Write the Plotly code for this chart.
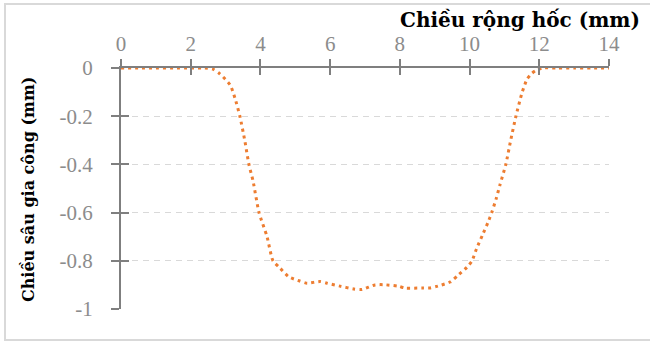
import plotly.graph_objects as go

# Data
width_mm = [0, 0.5, 1, 1.5, 2, 2.4, 2.64, 2.84, 3.13, 3.27, 3.41, 3.55, 3.67, 3.79,
            3.96, 4.19, 4.36, 4.56, 4.82, 5.13, 5.34, 5.71, 5.91, 6.28, 6.68, 6.91,
            7.29, 7.52, 7.95, 8.15, 8.63, 8.86, 9.09, 9.44, 9.67, 9.93, 10.07, 10.2,
            10.38, 10.53, 10.64, 10.76, 10.87, 11.04, 11.18, 11.33, 11.5, 11.65, 11.79,
            11.93, 12.1, 12.5, 13, 13.5, 14]
depth_mm = [0, 0, 0, 0, 0, 0, -0.005, -0.025, -0.07, -0.125, -0.2, -0.3, -0.4, -0.47,
            -0.6, -0.7, -0.8, -0.83, -0.867, -0.884, -0.893, -0.886, -0.893, -0.905, -0.917, -0.919,
            -0.9, -0.899, -0.905, -0.913, -0.913, -0.913, -0.905, -0.888, -0.86, -0.826, -0.8, -0.75,
            -0.69, -0.64, -0.598, -0.544, -0.486, -0.4, -0.3, -0.2, -0.105, -0.046, -0.022,
            -0.008, 0, 0, 0, 0, 0]

x_ticks = [0, 2, 4, 6, 8, 10, 12, 14]
y_ticks = [0, -0.2, -0.4, -0.6, -0.8, -1]
y_tick_text = ["0", "-0.2", "-0.4", "-0.6", "-0.8", "-1"]

x_title = "Chiều rộng hốc (mm)"
y_title = "Chiều sâu gia công (mm)"

W, H = 650, 343
ML, MR, MT, MB = 121, 41, 68, 34
PW, PH = W - ML - MR, H - MT - MB

tick_font = dict(family="Liberation Serif", size=21, color="#8c8c8c")
axis_col = "#7f7f7f"

fig = go.Figure()
fig.add_trace(go.Scatter(
    x=width_mm, y=depth_mm, mode="lines",
    line=dict(color="#ED7D31", width=3, dash="3px,4px", shape="spline", smoothing=0.6),
    hoverinfo="skip", showlegend=False,
))
# invisible trace to activate overlay axes (cross tick marks)
fig.add_trace(go.Scatter(x=[0, 14], y=[-1, 0], xaxis="x2", yaxis="y2",
                         mode="markers", marker=dict(opacity=0), showlegend=False,
                         hoverinfo="skip"))

fig.update_layout(
    width=W, height=H,
    margin=dict(l=ML, r=MR, t=MT, b=MB),
    paper_bgcolor="white", plot_bgcolor="white",
    xaxis=dict(range=[0, 14], side="top", tickvals=x_ticks, ticks="outside",
               ticklen=7, tickwidth=2, tickcolor=axis_col, showline=True,
               linecolor=axis_col, linewidth=2, showgrid=False, zeroline=False,
               tickfont=tick_font, ticklabelstandoff=0, fixedrange=True),
    yaxis=dict(range=[-1, 0], tickvals=y_ticks, ticktext=y_tick_text, ticks="outside",
               ticklen=8, tickwidth=2, tickcolor=axis_col, showline=True,
               linecolor=axis_col, linewidth=2, showgrid=True, gridcolor="#d9d9d9",
               griddash="6px,5px", gridwidth=1, zeroline=False,
               tickfont=tick_font, ticklabelstandoff=14, fixedrange=True),
    xaxis2=dict(range=[0, 14], overlaying="x", side="top", tickvals=x_ticks,
                ticks="inside", ticklen=7, tickwidth=2, tickcolor=axis_col,
                showticklabels=False, showgrid=False, zeroline=False, showline=False),
    yaxis2=dict(range=[-1, 0], overlaying="y", side="left", tickvals=y_ticks,
                ticks="inside", ticklen=8, tickwidth=2, tickcolor=axis_col,
                showticklabels=False, showgrid=False, zeroline=False, showline=False),
)

# outer chart border
fig.add_shape(type="rect", xref="paper", yref="paper",
              x0=(5 - ML) / PW, x1=(660 - ML) / PW,
              y0=(H - MB - 340) / PH, y1=(H - MB - 4) / PH,
              line=dict(color="#d9d9d9", width=2), fillcolor="rgba(0,0,0,0)", layer="below")

fig.add_annotation(text="<b>" + x_title + "</b>", xref="paper", yref="paper",
                   x=(642 - ML) / PW, y=(H - MB - 20) / PH, xanchor="right", yanchor="middle",
                   showarrow=False, font=dict(family="DejaVu Serif", size=20, color="black"))
fig.add_annotation(text="<b>" + y_title + "</b>", xref="paper", yref="paper",
                   x=(28 - ML) / PW, y=(H - MB - 190) / PH, xanchor="center", yanchor="middle",
                   textangle=-90, showarrow=False,
                   font=dict(family="DejaVu Serif", size=16, color="black"))

fig.write_html("out.html")
